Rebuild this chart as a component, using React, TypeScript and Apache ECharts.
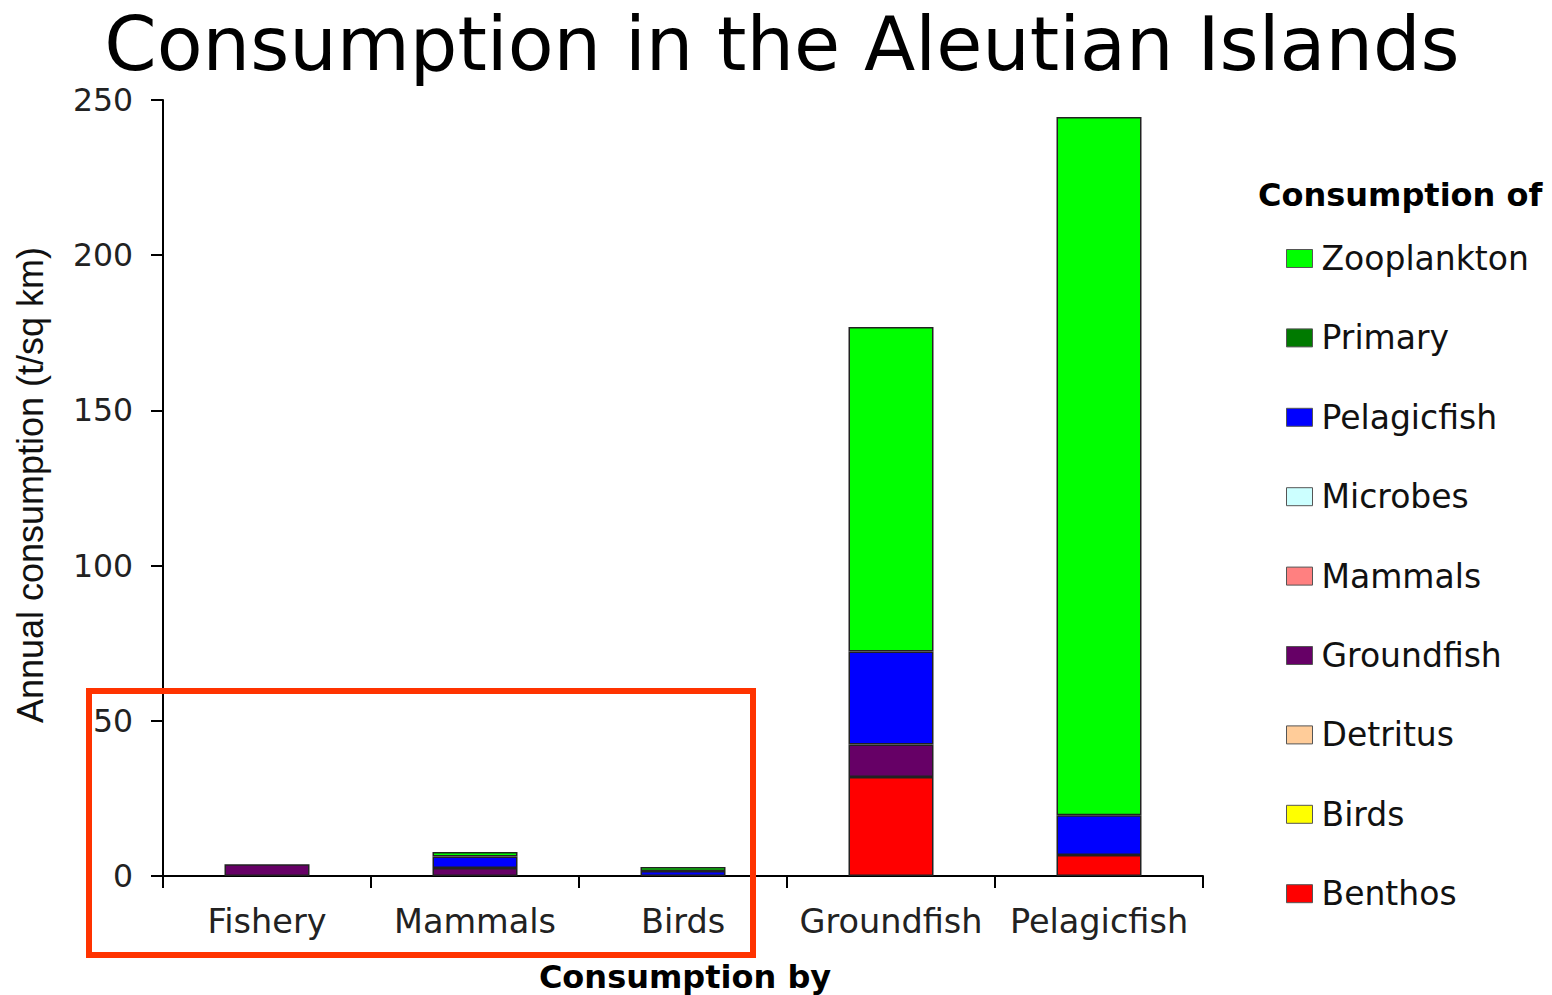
import React, { useEffect, useRef } from "react";
import * as echarts from "echarts";

const categories = ["Fishery", "Mammals", "Birds", "Groundfish", "Pelagicfish"];
const seriesNames = ["Benthos", "Birds", "Detritus", "Groundfish", "Mammals", "Microbes", "Pelagicfish", "Primary", "Zooplankton"];
const seriesColors = ["#FF0000", "#FFFF00", "#FFCC99", "#660066", "#FF8080", "#CCFFFF", "#0000FF", "#007A00", "#00FF00"];
const benthos = [null, null, null, 31.9, 6.8];
const birds = [null, null, null, null, null];
const detritus = [null, null, null, null, null];
const groundfish = [3.8, 2.6, null, 10.5, null];
const mammals = [null, null, null, null, null];
const microbes = [null, null, null, null, null];
const pelagicfish = [null, 3.7, 1.6, 29.9, 12.8];
const primary = [null, null, null, null, null];
const zooplankton = [null, 1.4, 1.3, 104.6, 224.9];
const yTicks = [0, 50, 100, 150, 200, 250];

const seriesData = [benthos, birds, detritus, groundfish, mammals, microbes, pelagicfish, primary, zooplankton];

export default function App() {
  const ref = useRef<HTMLDivElement>(null);
  useEffect(() => {
    const chart = echarts.init(ref.current!, null, { renderer: "svg" });
    chart.setOption({
      animation: false,
      backgroundColor: "#ffffff",
      grid: { left: 163, right: 349, top: 100, bottom: 119, containLabel: false },
      legend: {
        orient: "vertical",
        left: 1286,
        top: 242,
        padding: 0,
        itemWidth: 26,
        itemHeight: 18,
        itemGap: 46.4,
        icon: "rect",
        data: [...seriesNames].reverse(),
        textStyle: { fontFamily: "DejaVu Sans", fontSize: 33, color: "#111", lineHeight: 32, padding: [0, 0, 0, 4] },
        itemStyle: { borderColor: "#555", borderWidth: 1 },
      },
      xAxis: {
        type: "category",
        data: categories,
        axisLine: { lineStyle: { color: "#000", width: 2 } },
        axisTick: { show: true, interval: 0, length: 12, lineStyle: { color: "#000", width: 2 } },
        axisLabel: { interval: 0, fontFamily: "DejaVu Sans", fontSize: 33.5, color: "#222", margin: 28 },
      },
      yAxis: {
        type: "value",
        min: 0,
        max: 250,
        interval: 50,
        splitLine: { show: false },
        axisLine: { show: true, lineStyle: { color: "#000", width: 2 } },
        axisTick: { show: true, length: 12, lineStyle: { color: "#000", width: 2 } },
        axisLabel: {
          fontFamily: "DejaVu Sans",
          fontSize: 31.5,
          color: "#222",
          margin: 30,
          formatter: (v: number) => (yTicks.includes(v) ? String(v) : ""),
        },
      },
      series: seriesNames.map((name, i) => ({
        name,
        type: "bar",
        stack: "total",
        barWidth: 85,
        data: seriesData[i],
        itemStyle: { color: seriesColors[i], borderColor: "#222", borderWidth: 1.5 },
      })),
      graphic: [
        {
          type: "text",
          x: 782,
          y: 44,
          style: { text: "Consumption in the Aleutian Islands", font: "75px DejaVu Sans", fill: "#000", align: "center", verticalAlign: "middle", lineHeight: 66 },
        },
        {
          type: "text",
          x: 1258,
          y: 195,
          style: { text: "Consumption of", font: "bold 32px DejaVu Sans", fill: "#000", verticalAlign: "middle" },
        },
        {
          type: "text",
          x: 685,
          y: 977,
          style: { text: "Consumption by", font: "bold 32px DejaVu Sans", fill: "#000", align: "center", verticalAlign: "middle" },
        },
        {
          type: "text",
          x: 30,
          y: 485,
          rotation: Math.PI / 2,
          style: { text: "Annual consumption (t/sq km)", font: "36px Liberation Sans", fill: "#111", align: "center", verticalAlign: "middle" },
        },
        {
          type: "rect",
          shape: { x: 89, y: 691, width: 664, height: 264 },
          style: { fill: "none", stroke: "#FF3300", lineWidth: 6 },
          z: 100,
        },
      ],
    });
    return () => chart.dispose();
  }, []);
  return <div ref={ref} style={{ position: "fixed", left: 0, top: 0, width: 1552, height: 995 }} />;
}
